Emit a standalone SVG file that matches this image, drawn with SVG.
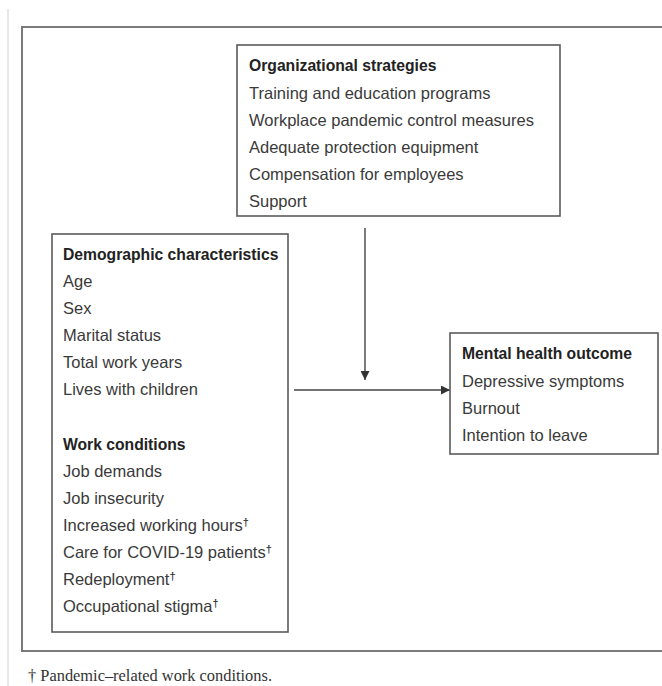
<svg xmlns="http://www.w3.org/2000/svg" width="662" height="686" viewBox="0 0 662 686">
<style>
.box{fill:#fff;stroke:#5a5a5a;stroke-width:1.6}
.t{font-family:"Liberation Sans",Arial,sans-serif;font-size:16.5px;fill:#3a3a3a}
.h{font-family:"Liberation Sans",Arial,sans-serif;font-size:15.7px;font-weight:bold;fill:#222}
.sup{font-size:11px;font-weight:bold}
.c{stroke:#444;stroke-width:1.4;fill:none}
</style>
<defs>
<marker id="ah" viewBox="0 0 10 10" refX="10" refY="5" markerWidth="9" markerHeight="9" markerUnits="userSpaceOnUse" orient="auto">
<path d="M0,0 L10,5 L0,10 Z" fill="#333"/>
</marker>
</defs>
<rect width="662" height="686" fill="#fff"/>
<line x1="8" y1="9" x2="8" y2="686" stroke="#d0d0d0" stroke-width="1"/>
<rect x="22" y="27" width="660" height="624" fill="none" stroke="#7a7a7a" stroke-width="2"/>
<g id="connectors">
<line class="c" x1="365" y1="228" x2="365" y2="380" marker-end="url(#ah)"/>
<line class="c" x1="294" y1="390" x2="450" y2="390" marker-end="url(#ah)"/>
</g>
<g id="org">
<rect class="box" x="237" y="45" width="323" height="171"/>
<text class="h" x="249" y="71">Organizational strategies</text>
<text class="t" x="249" y="99">Training and education programs</text>
<text class="t" x="249" y="126">Workplace pandemic control measures</text>
<text class="t" x="249" y="153">Adequate protection equipment</text>
<text class="t" x="249" y="180">Compensation for employees</text>
<text class="t" x="249" y="207">Support</text>
</g>
<g id="demo">
<rect class="box" x="52" y="234" width="236" height="398"/>
<text class="h" x="63" y="260">Demographic characteristics</text>
<text class="t" x="63" y="287">Age</text>
<text class="t" x="63" y="314">Sex</text>
<text class="t" x="63" y="341">Marital status</text>
<text class="t" x="63" y="368">Total work years</text>
<text class="t" x="63" y="395">Lives with children</text>
<text class="h" x="63" y="450">Work conditions</text>
<text class="t" x="63" y="477">Job demands</text>
<text class="t" x="63" y="504">Job insecurity</text>
<text class="t" x="63" y="531">Increased working hours<tspan class="sup" dy="-5">†</tspan></text>
<text class="t" x="63" y="558">Care for COVID-19 patients<tspan class="sup" dy="-5">†</tspan></text>
<text class="t" x="63" y="585">Redeployment<tspan class="sup" dy="-5">†</tspan></text>
<text class="t" x="63" y="612">Occupational stigma<tspan class="sup" dy="-5">†</tspan></text>
</g>
<g id="mental">
<rect class="box" x="450" y="333" width="208" height="121"/>
<text class="h" x="462" y="359">Mental health outcome</text>
<text class="t" x="462" y="387">Depressive symptoms</text>
<text class="t" x="462" y="414">Burnout</text>
<text class="t" x="462" y="441">Intention to leave</text>
</g>
<text x="28" y="681" font-family="'Liberation Serif','Times New Roman',serif" font-size="16.4" fill="#333">† Pandemic–related work conditions.</text>
</svg>
